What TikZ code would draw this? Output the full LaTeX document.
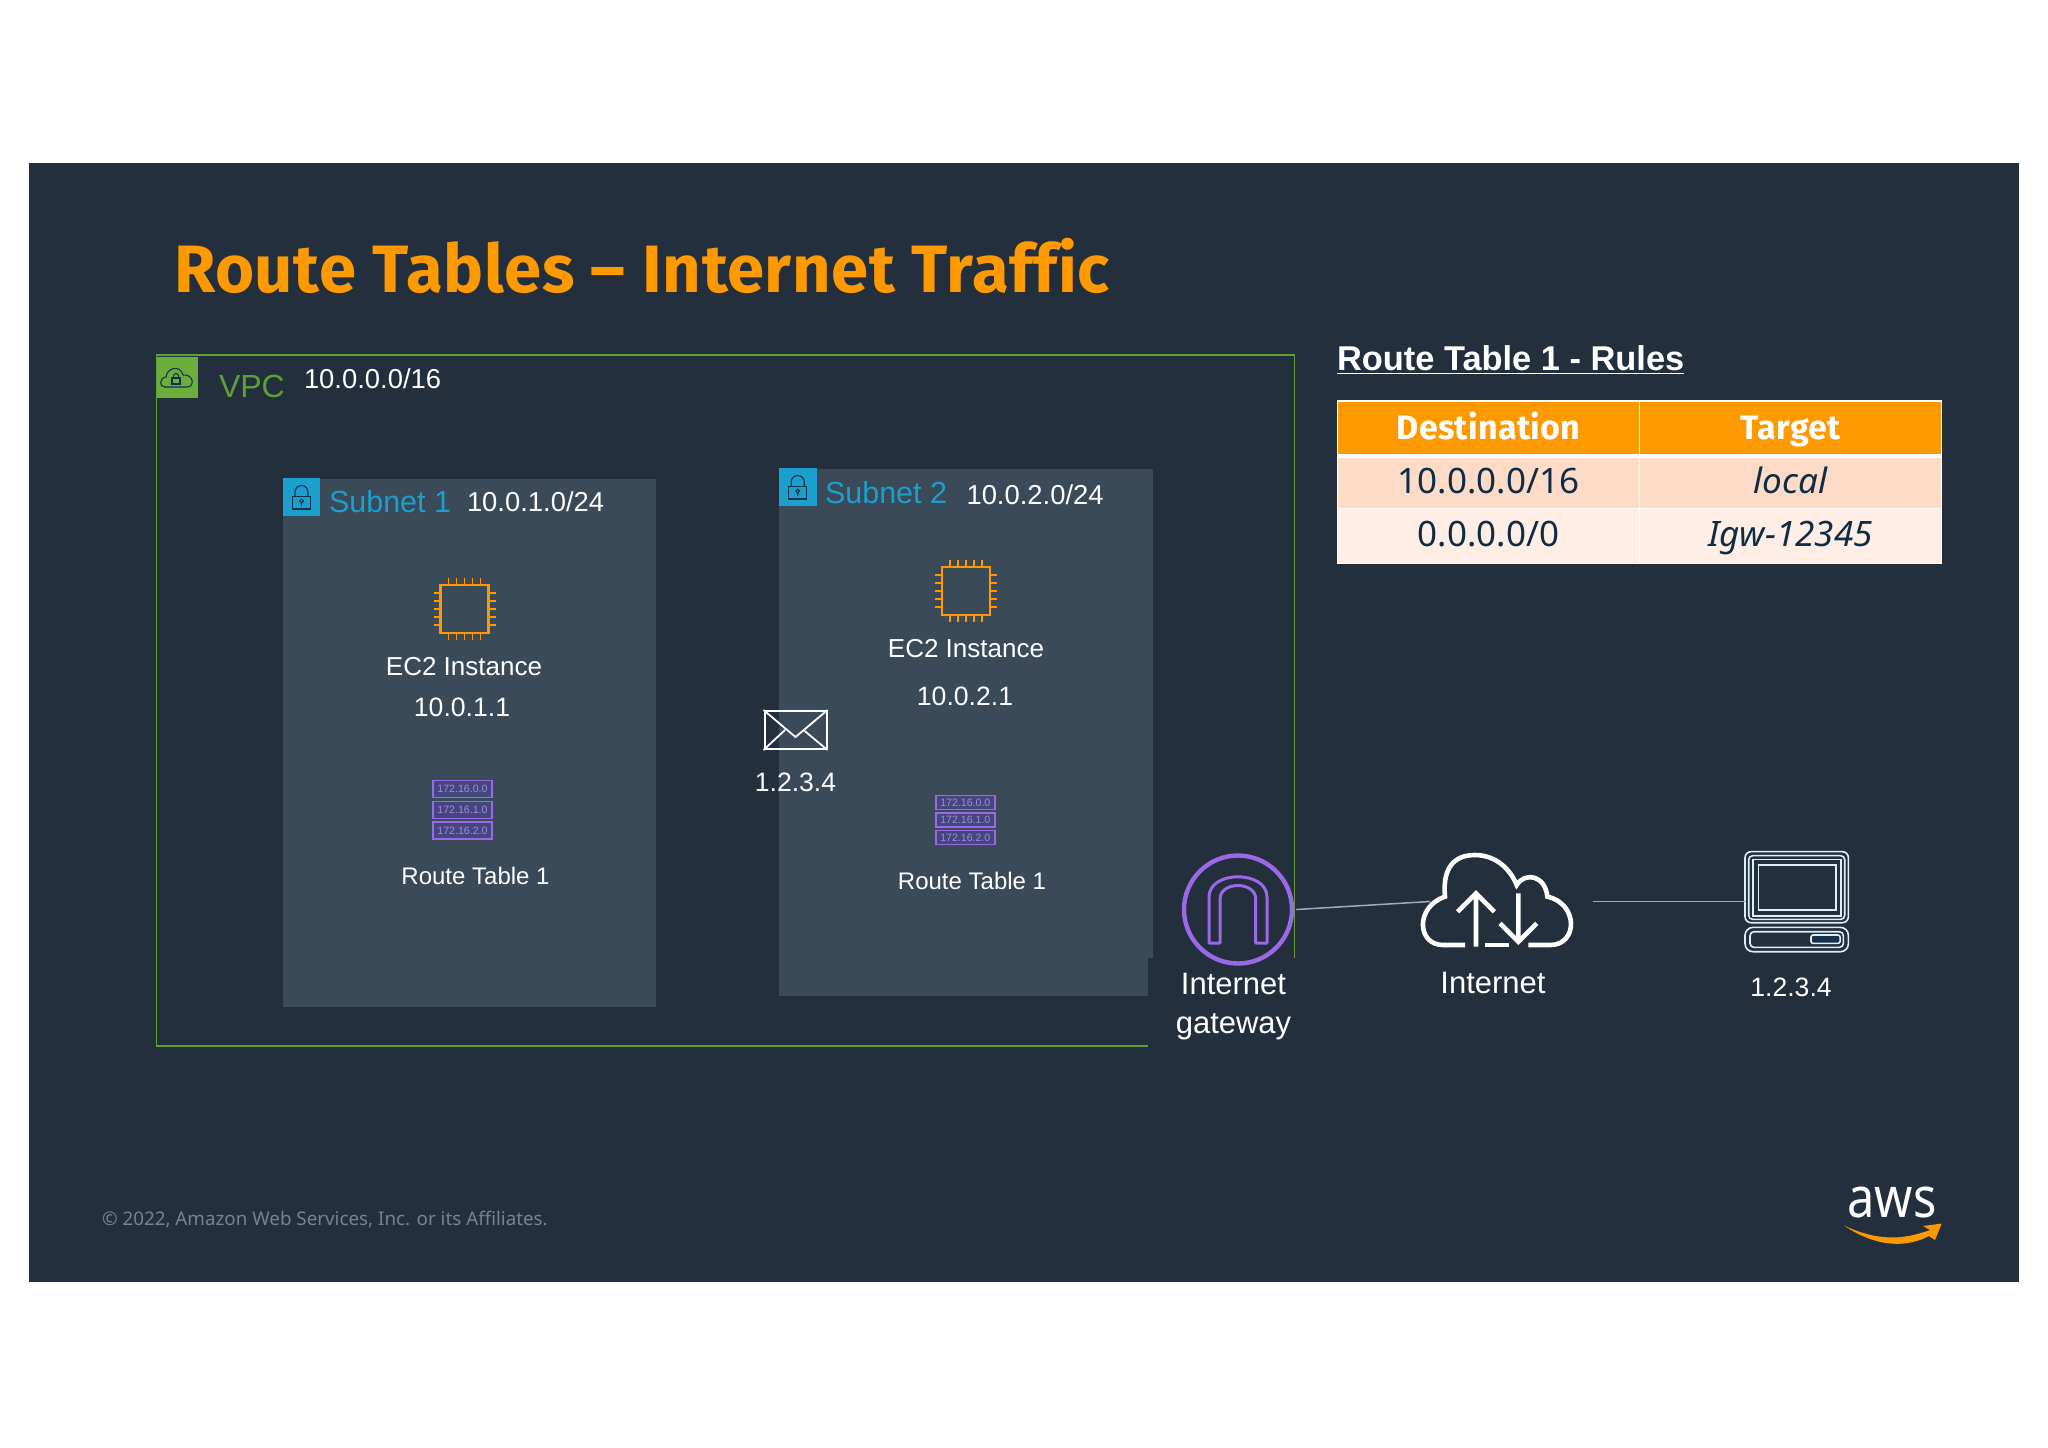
\documentclass[tikz,border=0pt]{standalone}
\usepackage{fontspec}
\usetikzlibrary{positioning}
\setmainfont{Liberation Sans}
\newfontfamily\slidefont{Noto Sans}
\newfontfamily\headfont{Fira Sans}[Ligatures=NoCommon, LetterSpace=1]
\definecolor{slidebg}{HTML}{242F3E}
\definecolor{subnetbg}{HTML}{3A4A58}
\definecolor{vpcgreen}{HTML}{5E9F36}
\definecolor{vpcbox}{HTML}{6BAE3E}
\definecolor{subnetblue}{HTML}{1B9FCC}
\definecolor{awsorange}{HTML}{FF9900}
\definecolor{rtpurple}{HTML}{9A6AE6}
\definecolor{rtfill}{HTML}{46467E}
\definecolor{rtext}{HTML}{9C8CE0}
\definecolor{iconline}{HTML}{14324A}
\definecolor{rowone}{HTML}{FDDBC7}
\definecolor{rowtwo}{HTML}{FFEEE6}
\definecolor{celltext}{HTML}{0F2C45}
\definecolor{footgrey}{HTML}{78828E}
\definecolor{wiregrey}{HTML}{A0ABB6}
\definecolor{hostline}{HTML}{DCEEF6}
\newcommand{\chipicon}[2]{%
  \begin{scope}[shift={(#1,#2)}, awsorange, line width=1.1pt]
    \draw (-24,-24) rectangle (24,24);
    \foreach \p in {-16,-8,0,8,16} {
      \draw[line width=.9pt] (\p,-31) -- (\p,-24) (\p,24) -- (\p,31);
      \draw[line width=.9pt] (-31,\p) -- (-24,\p) (24,\p) -- (31,\p);
    }
  \end{scope}}
\newcommand{\routeicon}[5]{%
  \foreach \r in {0,1,2} {
    \node[rtrow, minimum height=#5*.5pt] (#1\r) at (#2,#3+\r*#4) {172.16.\r.0};
  }}
\newcommand{\lockicon}[2]{%
  \begin{scope}[shift={(#1,#2)}, iconline, line width=.55pt]
    \draw (10,18.7) rectangle (28,31);
    \draw (12.5,18.7) -- (12.5,14) arc[start angle=180, end angle=360, radius=6.5] -- (25.5,18.7);
    \draw (19,23) circle (1.8) (19,24.8) -- (19,28);
  \end{scope}}
\tikzset{
  txt/.style={anchor=base west, inner sep=0pt, outer sep=0pt, text=white},
  ctr/.style={anchor=base, inner sep=0pt, outer sep=0pt, text=white},
  rtrow/.style={draw=rtpurple, fill=rtfill, line width=.8pt, minimum width=29.5pt, inner sep=0pt,
    text=rtext, font=\fontsize{5.3}{6}\selectfont}
}
\begin{document}
\begin{tikzpicture}[x=.5pt, y=-.5pt]
\tikzstyle{subnet}=[fill=subnetbg, anchor=north west, inner sep=0pt, outer sep=0pt]
\tikzstyle{cell}=[draw=white, line width=.6pt, anchor=north west, inner sep=0pt, outer sep=0pt, minimum width=151pt, text=celltext, font=\slidefont\fontsize{17.5}{20}\selectfont]
\tikzstyle{wire}=[wiregrey, line width=.75pt]
\tikzstyle{hostbox}=[hostline, line width=.8pt]
\useasboundingbox (0,0) rectangle (2048,1447);
\fill[white] (0,0) rectangle (2048,1447);
\fill[slidebg] (29,163) rectangle (2019,1282);

\node[txt, text=awsorange, font=\headfont\bfseries\fontsize{33.5}{38}\selectfont] (title) at (174,292) {Route Tables – Internet Traffic};

\node[draw=vpcgreen, line width=.6pt, anchor=north west, inner sep=0pt, outer sep=0pt, minimum width=569pt, minimum height=345.5pt] (vpc) at (156.5,355) {};
\node[fill=vpcbox, anchor=north west, inner sep=0pt, minimum width=20.7pt, minimum height=20.5pt] (vpcicon) at (156.5,357) {};
\draw[iconline, line width=.55pt] (165,387) .. controls (159,387) and (159,378) .. (166,377)
  .. controls (167,367) and (181,365) .. (183,375) .. controls (194,374) and (195,387) .. (187,387) -- cycle;
\draw[iconline, line width=.55pt] (172,378) rectangle (180,384);
\draw[iconline, line width=.55pt] (173.5,378) -- (173.5,376) arc[start angle=180, end angle=360, radius=2.5] -- (178.5,378);
\node[txt, text=vpcgreen, font=\fontsize{16}{20}\selectfont] (vpcname) at (219,397) {VPC};
\node[txt, font=\fontsize{13.7}{16}\selectfont] (vpccidr) at (304,388) {10.0.0.0/16};

\node[subnet, minimum width=186.75pt, minimum height=264pt] (sub1) at (282.5,478.5) {};
\node[subnet, minimum width=187pt, minimum height=263.5pt] (sub2) at (778.7,468.5) {};
\fill[slidebg] (1148,958) rectangle (1300,1060);

\node[fill=subnetblue, anchor=north west, inner sep=0pt, minimum width=18.75pt, minimum height=18.75pt] (lock1) at (282.5,478) {};
\node[fill=subnetblue, anchor=north west, inner sep=0pt, minimum width=18.75pt, minimum height=18.75pt] (lock2) at (778.7,468) {};
\lockicon{282.5}{478}
\lockicon{778.7}{468}
\node[txt, text=subnetblue, font=\fontsize{15.25}{18}\selectfont] (sub1name) at (329,512.5) {Subnet 1};
\node[txt, text=subnetblue, font=\fontsize{15.25}{18}\selectfont] (sub2name) at (825,503.5) {Subnet 2};
\node[txt, font=\fontsize{13.7}{16}\selectfont] (sub1cidr) at (467,511) {10.0.1.0/24};
\node[txt, font=\fontsize{13.7}{16}\selectfont] (sub2cidr) at (966.5,504) {10.0.2.0/24};

\chipicon{464.5}{609}
\chipicon{966}{591}
\node[ctr, font=\fontsize{13}{16}\selectfont] (ec2one) at (464,675) {EC2 Instance};
\node[ctr, font=\fontsize{13.3}{16}\selectfont] (ipone) at (462,716) {10.0.1.1};
\node[ctr, font=\fontsize{13}{16}\selectfont] (ec2two) at (966,657) {EC2 Instance};
\node[ctr, font=\fontsize{13.3}{16}\selectfont] (iptwo) at (965,705.5) {10.0.2.1};

\routeicon{rtone}{462.5}{789}{20.8}{17}
\routeicon{rttwo}{965.3}{802.5}{17.5}{14}
\node[ctr, font=\fontsize{12}{14}\selectfont] (rtnameone) at (475.5,884) {Route Table 1};
\node[ctr, font=\fontsize{12}{14}\selectfont] (rtnametwo) at (972,889) {Route Table 1};

\node[draw=white, line width=1pt, inner sep=0pt, minimum width=31pt, minimum height=19pt] (mail) at (795.5,730) {};
\draw[white, line width=.9pt] (mail.north west) -- (795.5,737) -- (mail.north east);
\draw[white, line width=.9pt] (mail.south west) -- (785,730) (mail.south east) -- (803.5,730);
\node[ctr, font=\fontsize{13.3}{16}\selectfont] (mailip) at (795.5,791) {1.2.3.4};

\node[draw=rtpurple, circle, line width=2.2pt, inner sep=0pt, minimum size=54pt, outer sep=2pt] (gw) at (1238,909.5) {};
\draw[rtpurple, line width=1.5pt, line join=round] (1209,943) -- (1209,897)
  .. controls (1209,870) and (1267,870) .. (1267,897) -- (1267,943) -- (1255.7,943) -- (1255.7,899)
  .. controls (1255.7,881) and (1220,881) .. (1220,899) -- (1220,943) -- cycle;
\node[ctr, align=center, font=\fontsize{15.5}{19.2}\selectfont] (gwname) at (1233.5,1033) {Internet\\gateway};

\node[inner sep=0pt, outer sep=0pt, minimum width=81.3pt, minimum height=10pt] (inet) at (1511.3,901.5) {};
\begin{scope}[shift={(1410,845)}, x=.1667pt, y=-.1667pt, white, line width=2.3pt, line cap=butt]
  \draw (165,300) -- (100,300) .. controls (20,300) and (15,185) .. (105,155)
    .. controls (95,50) and (150,30) .. (195,30) .. controls (255,30) and (300,70) .. (320,120)
    .. controls (345,80) and (405,90) .. (412,155) .. controls (505,175) and (505,300) .. (420,300) -- (355,300);
  \draw (225,300) -- (297,300);
  \draw (198,305) -- (198,145) (143,200) -- (198,145) -- (253,200);
  \draw (325,145) -- (325,290) (270,235) -- (325,290) -- (380,235);
\end{scope}
\node[ctr, font=\fontsize{15.5}{19}\selectfont] (inetname) at (1493,993.5) {Internet};

\node[inner sep=0pt, outer sep=0pt, minimum width=51pt, minimum height=50.5pt] (host) at (1797,901.5) {};
\begin{scope}[shift={(1730,840)}, x=.1667pt, y=-.1667pt]
  \draw[hostbox, rounded corners=3pt] (45,35) rectangle (355,248);
  \draw[hostbox, rounded corners=2pt] (56,47) rectangle (344,238);
  \draw[hostbox] (68,58) rectangle (332,228);
  \draw[hostbox] (85,75) rectangle (318,210);
  \draw[hostbox, rounded corners=4pt] (45,262) rectangle (355,335);
  \draw[hostbox, rounded corners=2pt] (60,275) rectangle (340,322);
  \draw[hostbox, fill=iconline, rounded corners=1pt] (243,285) rectangle (330,310);
\end{scope}
\node[ctr, font=\fontsize{13.3}{16}\selectfont] (hostip) at (1791,996.5) {1.2.3.4};

\draw[wire] (gw.east) -- (inet.west);
\draw[wire] (inet.east) -- (host.west);

\node[txt, font=\bfseries\fontsize{17.2}{20}\selectfont] (rtitle) at (1337,370) {\underline{Route Table 1 - Rules}};

\node[cell, fill=awsorange, text=white, font=\headfont\bfseries\fontsize{17}{20}\selectfont, text height=19pt, text depth=8.5pt] (dest) at (1337.5,401) {Destination};
\node[cell, fill=awsorange, text=white, font=\headfont\bfseries\fontsize{17}{20}\selectfont, text height=19pt, text depth=8.5pt] (tgt) at (1639.5,401) {Target};
\node[cell, fill=rowone, text height=18.5pt, text depth=7.85pt] (destone) at (1337.5,456) {10.0.0.0/16};
\node[cell, fill=rowone, text height=18.5pt, text depth=7.85pt, font=\slidefont\itshape\fontsize{17.5}{20}\selectfont] (tgtone) at (1639.5,456) {local};
\node[cell, fill=rowtwo, text height=19pt, text depth=8.5pt] (desttwo) at (1337.5,508.7) {0.0.0.0/0};
\node[cell, fill=rowtwo, text height=19pt, text depth=8.5pt, font=\slidefont\itshape\fontsize{17.5}{20}\selectfont] (tgttwo) at (1639.5,508.7) {Igw-12345};
\draw[white, line width=2.2pt] (dest.south west) -- (tgt.south east);

\node[txt, text=footgrey, font=\slidefont\fontsize{9.4}{12}\selectfont] (foot) at (102,1225.5) {© 2022, Amazon Web Services, Inc. or its Affiliates.};

\node[ctr, font=\slidefont\fontsize{28}{32}\selectfont] (aws) at (1892,1217) {\scalebox{.87}[1]{aws}};
\fill[awsorange] (1844,1225.5) .. controls (1880,1250) and (1910,1246) .. (1929,1236)
  -- (1935,1240) -- (1941.7,1223.5) -- (1923,1226) -- (1930,1230)
  .. controls (1900,1241) and (1875,1240) .. (1844,1225.5) -- cycle;
\end{tikzpicture}
\end{document}
